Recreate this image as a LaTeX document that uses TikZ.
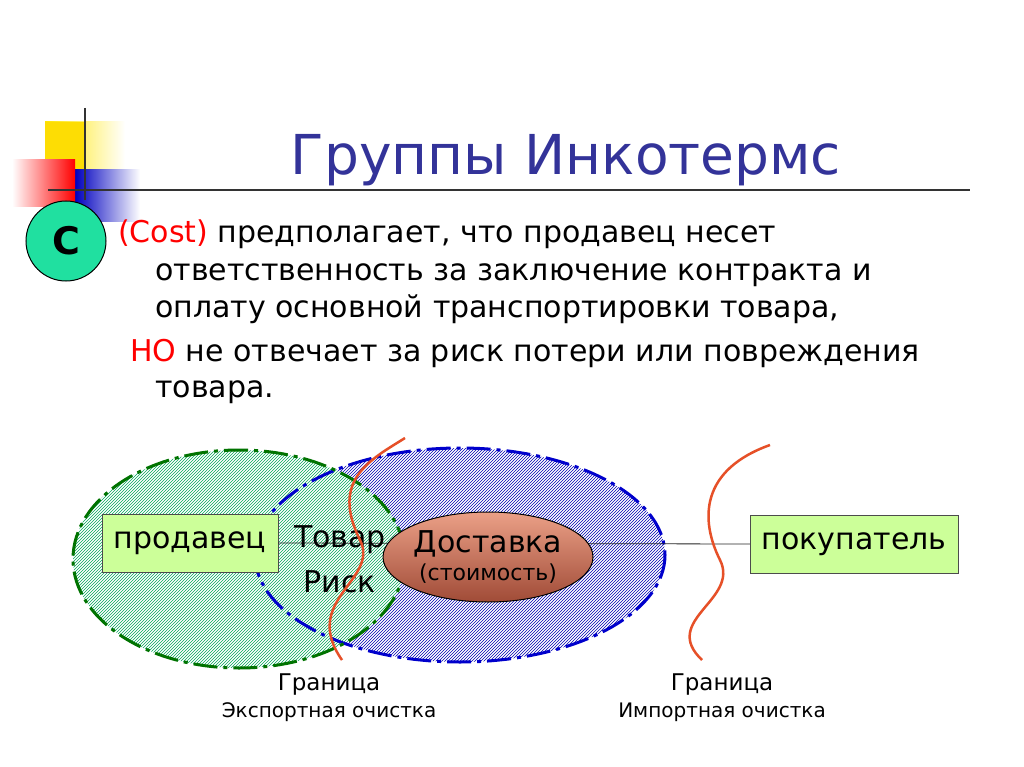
\documentclass[tikz,border=0pt]{standalone}
\usepackage{fontspec}
\setmainfont{DejaVu Sans}
\usetikzlibrary{patterns,shapes.geometric}
\definecolor{titleblue}{RGB}{51,51,153}
\definecolor{boxgreen}{RGB}{204,255,153}
\definecolor{tealc}{RGB}{32,224,160}
\definecolor{curvered}{RGB}{230,80,40}
\definecolor{delA}{RGB}{235,160,135}
\definecolor{delB}{RGB}{210,120,95}
\definecolor{delC}{RGB}{160,75,55}
\tikzset{
  pbox/.style={draw=black!70,fill=boxgreen,minimum width=176pt,minimum height=58pt,font=\fontsize{30}{32}\selectfont,inner sep=0pt},
  btext/.style={anchor=base west,font=\fontsize{30}{32}\selectfont,inner sep=0pt},
  bound/.style={draw=curvered,line width=2.5pt},
}
\begin{document}
\begin{tikzpicture}[x=1pt,y=-1pt]
\useasboundingbox (0,0) rectangle (1024,767);
\fill[white] (0,0) rectangle (1024,767);
% decoration
\shade[left color=yellow!80!orange,right color=white] (45,122) rectangle (125,170);
\fill[yellow!80!orange] (45,122) rectangle (85,170);
\shade[left color=blue!75!black,right color=white] (75,170) rectangle (140,222);
\shade[left color=white,right color=red] (12,160) rectangle (75,207);
\draw[line width=2pt,black!80] (85,108) -- (85,200);
\draw[line width=2pt,black!80] (48,190) -- (970,190);
\node[circle,draw=black,line width=1pt,fill=tealc,minimum size=80pt,font=\fontsize{38}{38}\selectfont\bfseries] (c) at (66,241) {C};
% title
\node[font=\fontsize{55}{56}\selectfont,text=titleblue] (title) at (566,160) {Группы Инкотермс};
% body
\node[btext] (l1) at (118,242) {\textcolor{red}{(Cost)} предполагает, что продавец несет};
\node[btext] (l2) at (155,280) {ответственность за заключение контракта и};
\node[btext] (l3) at (155,317) {оплату основной транспортировки товара,};
\node[btext] (l4) at (130,361) {\textcolor{red}{НО} не отвечает за риск потери или повреждения};
\node[btext] (l5) at (155,397) {товара.};
% ellipses
\path[fill=white] (460,555) ellipse [x radius=205,y radius=107];
\path[pattern=north east lines,pattern color=blue!70!black] (460,555) ellipse [x radius=205,y radius=107];
\path[fill=white] (239,559) ellipse [x radius=166,y radius=109];
\path[pattern=north east lines,pattern color=teal!70!green] (239,559) ellipse [x radius=166,y radius=109];
\draw[blue!80!black,line width=3pt,dash pattern=on 24pt off 6pt on 4pt off 6pt] (460,555) ellipse [x radius=205,y radius=107];
\draw[green!45!black,line width=3pt,dash pattern=on 24pt off 6pt on 4pt off 6pt] (239,559) ellipse [x radius=166,y radius=109];
% boxes
\node[pbox] (seller) at (190,543) {продавец};
\node[pbox,minimum width=208pt] (buyer) at (854,544) {покупатель};
\draw[black!85,line width=0.8pt] (seller.east) -- (buyer.west);
\node[font=\fontsize{30}{32}\selectfont,inner sep=0pt] (tovar) at (340,540) {Товар};
\node[font=\fontsize{30}{32}\selectfont,inner sep=0pt] (risk) at (340,582) {Риск};
\draw[bound] (405,438) .. controls (370,460) and (330,480) .. (360,540) .. controls (380,580) and (300,600) .. (342,660);
\draw[bound] (770,445) .. controls (700,470) and (700,520) .. (720,560) .. controls (740,600) and (660,620) .. (702,660);
\node[ellipse,draw=black,line width=1pt,top color=delA,middle color=delB,bottom color=delC,minimum width=210pt,minimum height=90pt,inner sep=0pt,align=center] (deliv) at (488,557) {{\fontsize{30}{32}\selectfont Доставка}\\[6pt]{\fontsize{22}{24}\selectfont (стоимость)}};
% labels
\node[font=\fontsize{23}{24}\selectfont] (g1) at (329,685) {Граница};
\node[font=\fontsize{20}{22}\selectfont] (e1) at (329,712) {Экспортная очистка};
\node[font=\fontsize{23}{24}\selectfont] (g2) at (722,685) {Граница};
\node[font=\fontsize{20}{22}\selectfont] (e2) at (722,712) {Импортная очистка};
\end{tikzpicture}
\end{document}
